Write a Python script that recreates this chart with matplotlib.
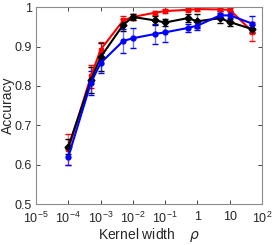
import numpy as np
import matplotlib
matplotlib.use("Agg")
import matplotlib.pyplot as plt

plt.rcParams['font.family'] = ['Liberation Sans', 'DejaVu Sans']
plt.rcParams['mathtext.default'] = 'regular'

### DATA
rho = [1e-4, 5e-4, 1e-3, 5e-3, 1e-2, 5e-2, 0.1, 0.5, 1, 5, 10, 50]
acc_red = [0.639, 0.824, 0.892, 0.966, 0.975, 0.986, 0.990, 0.993, 0.995, 0.994, 0.993, 0.938]
err_red = [0.040, 0.030, 0.020, 0.012, 0.008, 0.005, 0.005, 0.004, 0.004, 0.004, 0.004, 0.025]
acc_black = [0.646, 0.815, 0.873, 0.955, 0.975, 0.966, 0.961, 0.972, 0.964, 0.972, 0.962, 0.944]
err_black = [0.020, 0.032, 0.035, 0.015, 0.008, 0.012, 0.010, 0.010, 0.018, 0.012, 0.010, 0.010]
acc_blue = [0.620, 0.808, 0.858, 0.914, 0.921, 0.932, 0.936, 0.947, 0.953, 0.979, 0.979, 0.958]
err_blue = [0.020, 0.030, 0.025, 0.030, 0.025, 0.025, 0.025, 0.010, 0.010, 0.010, 0.010, 0.020]

xtick_vals = [1e-5, 1e-4, 1e-3, 1e-2, 1e-1, 1, 10, 100]
xtick_labels = ['$10^{-5}$', '$10^{-4}$', '$10^{-3}$', '$10^{-2}$', '$10^{-1}$', '1', '10', '$10^{2}$']
ytick_vals = [0.5, 0.6, 0.7, 0.8, 0.9, 1]
ytick_labels = ['0.5', '0.6', '0.7', '0.8', '0.9', '1']

### PLOTTING
fig = plt.figure(figsize=(2.73, 2.45), dpi=100)
ax = fig.add_axes([0.132, 0.167, 0.828, 0.804])

series = [(acc_red, err_red, 'red', 's'),
          (acc_black, err_black, 'black', 'D'),
          (acc_blue, err_blue, 'blue', 'o')]
for acc, err, col, mk in series:
    ax.errorbar(rho, acc, yerr=err, color=col, ecolor=col, elinewidth=1.0,
                capsize=2, capthick=1.0, lw=1.5, marker=mk, ms=3.5)
# lighter error bars like the original
for coll in ax.collections:
    coll.set_alpha(0.55)

ax.set_xscale('log')
ax.set_xlim(1e-5, 100)
ax.set_ylim(0.5, 1)
ax.set_xticks(xtick_vals)
ax.set_xticklabels(xtick_labels)
ax.minorticks_off()
ax.set_yticks(ytick_vals)
ax.set_yticklabels(ytick_labels)
ax.tick_params(direction='in', length=3, labelsize=9, colors='#262626',
               top=True, right=True, width=0.6)
ax.tick_params(axis='y', pad=3)
ax.tick_params(axis='x', pad=5)
for sp in ax.spines.values():
    sp.set_color('#8c8c8c')
    sp.set_linewidth(0.8)

ax.set_xlabel(r'Kernel width    $\it{\rho}$', fontsize=10, color='#262626', labelpad=0)
ax.set_ylabel('Accuracy', fontsize=10, color='#262626')
ax.yaxis.set_label_coords(-0.095, 0.5)

fig.savefig('out.png', dpi=100)
